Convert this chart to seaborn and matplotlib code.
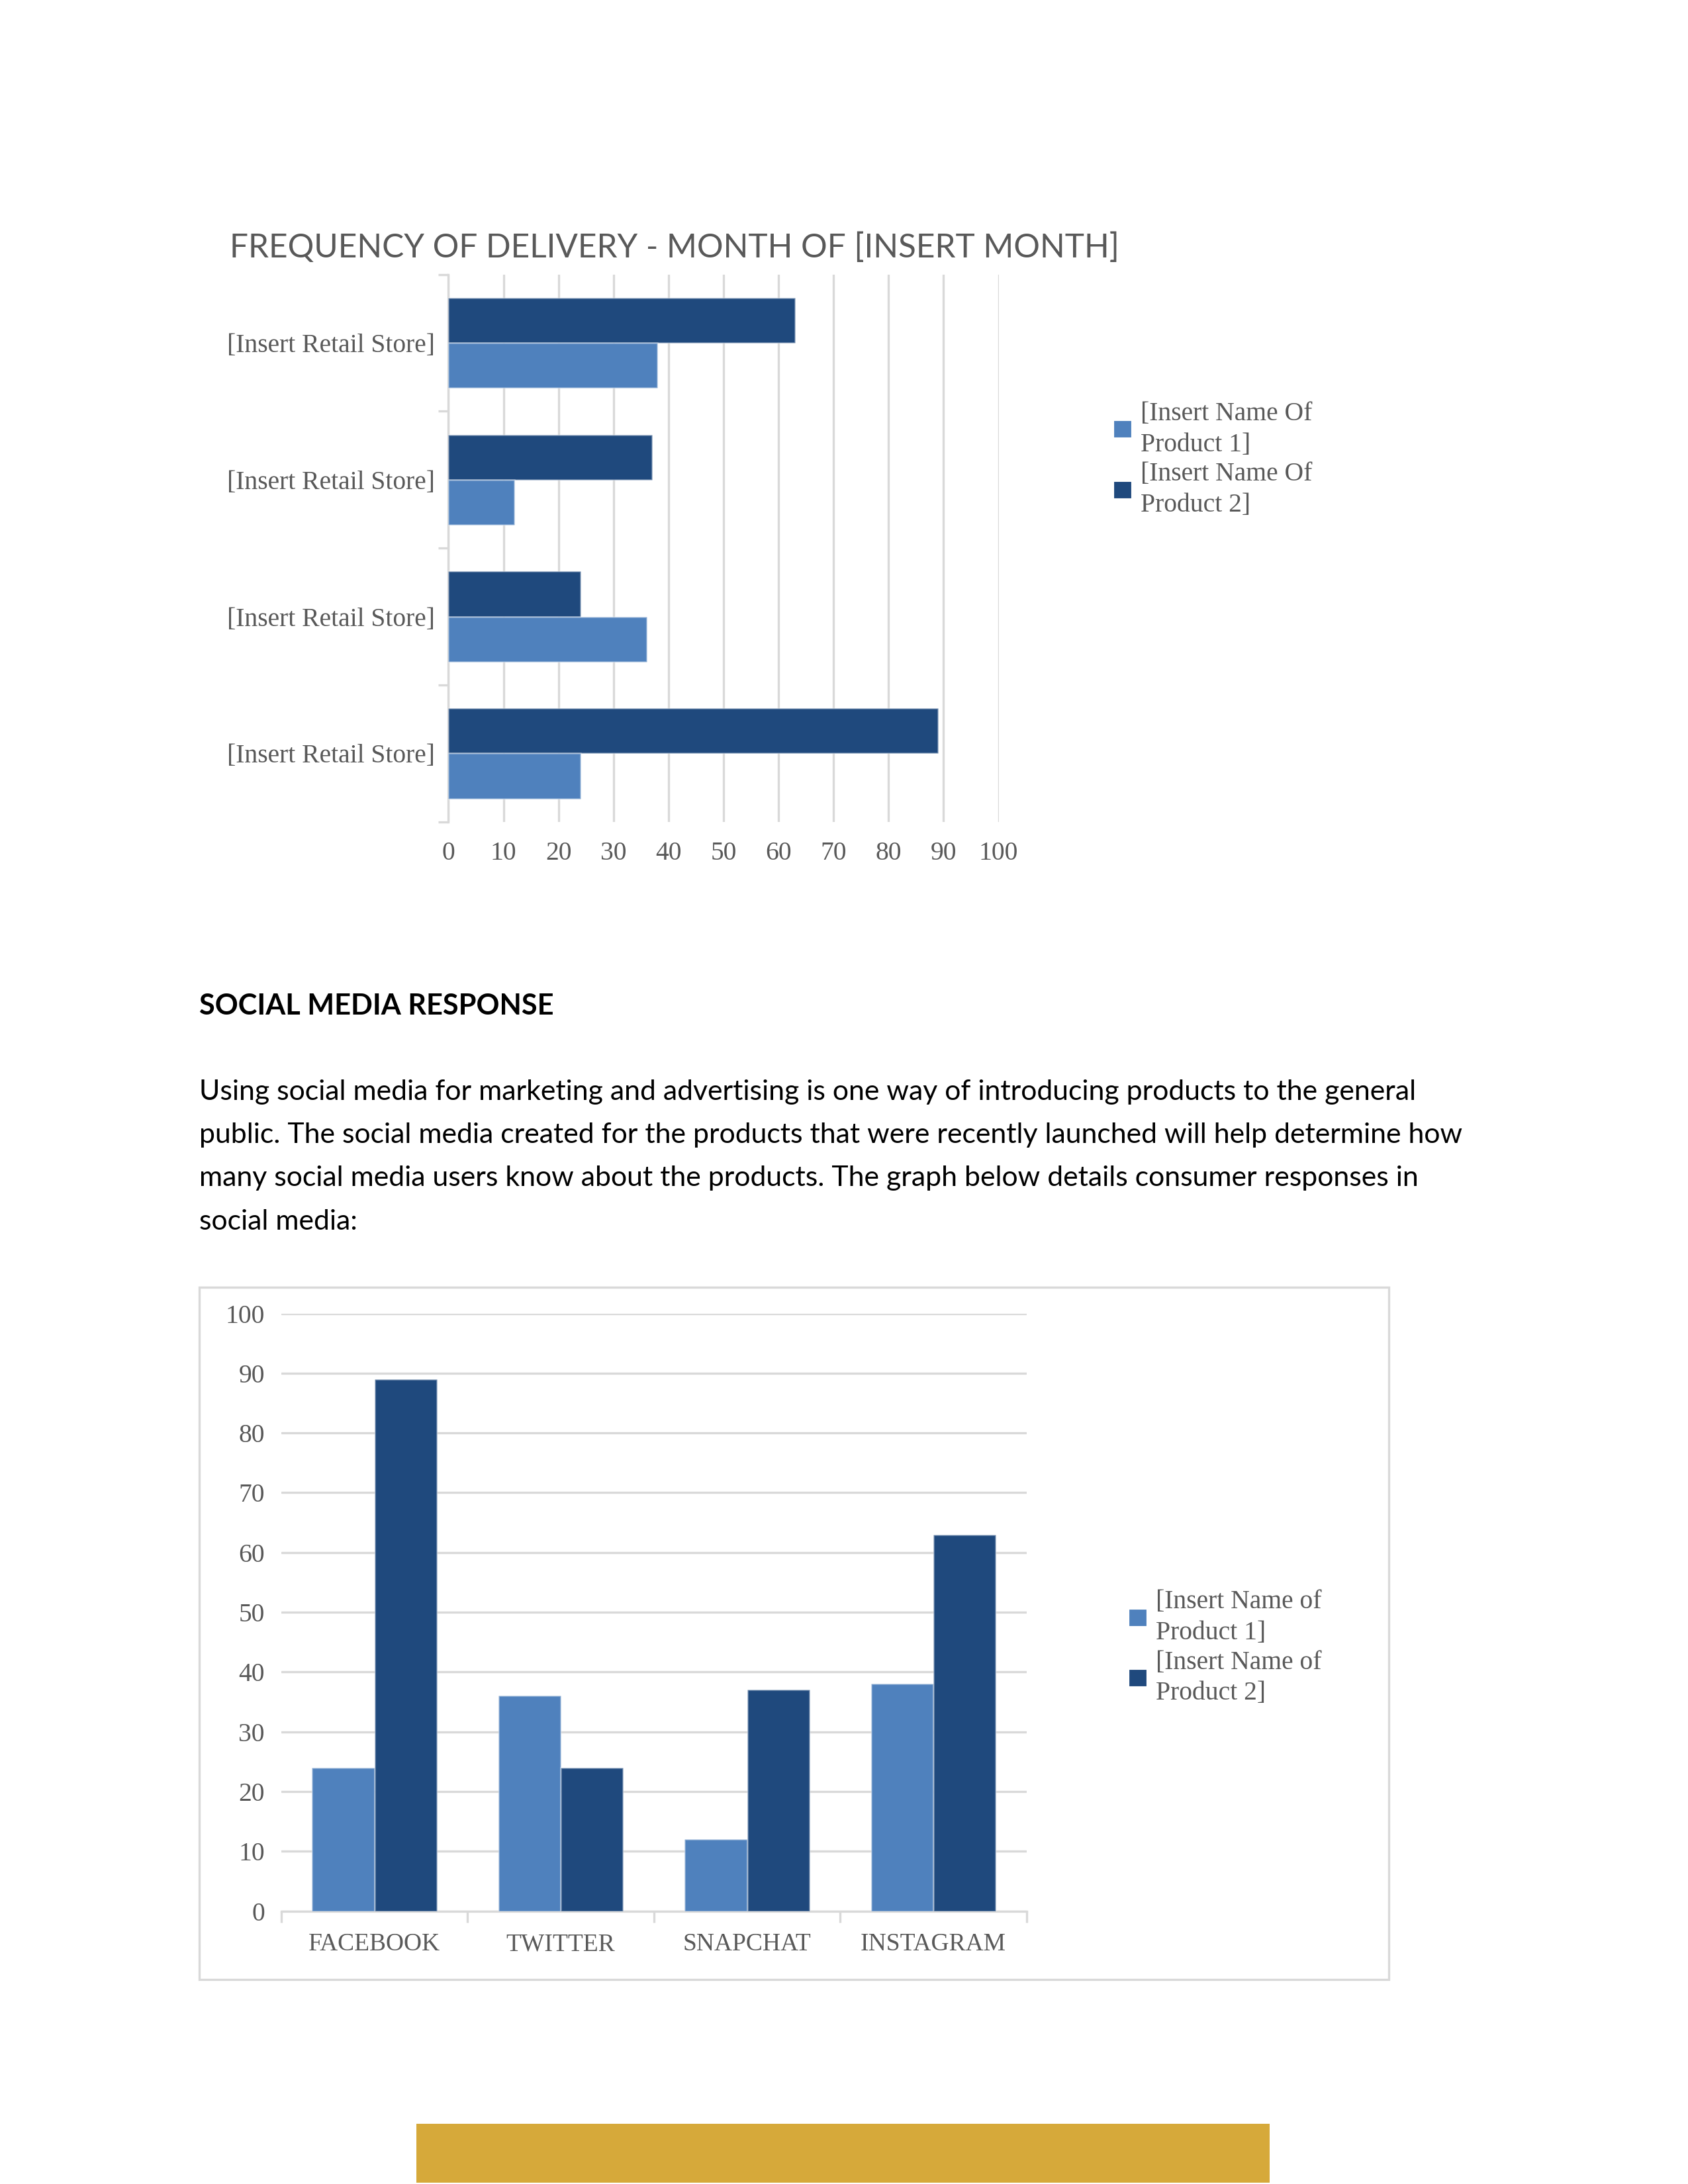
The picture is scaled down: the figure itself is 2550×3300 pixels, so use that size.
import pandas as pd
import numpy as np
import seaborn as sns
import matplotlib.pyplot as plt
from matplotlib.patches import Patch, Rectangle

# chart data
stores = ["store_1", "store_2", "store_3", "store_4"]
store_labels = ["[Insert Retail Store]"] * 4
delivery_p1 = [38, 12, 36, 24]
delivery_p2 = [63, 37, 24, 89]

platforms = ["FACEBOOK", "TWITTER", "SNAPCHAT", "INSTAGRAM"]
social_p1 = [24, 36, 12, 38]
social_p2 = [89, 24, 37, 63]

legend1 = ["[Insert Name Of\nProduct 1]", "[Insert Name Of\nProduct 2]"]
legend2 = ["[Insert Name of\nProduct 1]", "[Insert Name of\nProduct 2]"]

title1 = "FREQUENCY OF DELIVERY - MONTH OF [INSERT MONTH]"
heading = "SOCIAL MEDIA RESPONSE"
para = [
    "Using social media for marketing and advertising is one way of introducing products to the general",
    "public. The social media created for the products that were recently launched will help determine how",
    "many social media users know about the products. The graph below details consumer responses in",
    "social media:",
]

light = "#4F81BD"
dark = "#1F497D"
grid = "#D9D9D9"
gray = "#595959"
gold = "#D6A93A"

sns.set_theme(style="white")
plt.rcParams["font.family"] = ["Lato", "DejaVu Sans"]
serif = ["Liberation Serif", "DejaVu Serif"]

W, H = 1212, 1568  # layout measured on the preview grid


def fx(x):
    return x / W


def fy(y):
    return 1 - y / H


fig = plt.figure(figsize=(8.5, 11), dpi=300)
fig.patch.set_facecolor("white")

# ---------------- chart 1: horizontal bars ----------------
df1 = pd.DataFrame({
    "store": stores * 2,
    "value": delivery_p2 + delivery_p1,
    "product": ["P2"] * 4 + ["P1"] * 4,
})
ax1 = fig.add_axes([fx(322), fy(590), fx(717) - fx(322), fy(197) - fy(590)])
sns.barplot(data=df1, y="store", x="value", hue="product", hue_order=["P2", "P1"],
            order=stores, palette={"P1": light, "P2": dark}, orient="h",
            width=0.66, saturation=1, edgecolor=(1, 1, 1, 0.35), linewidth=0.6,
            legend=False, ax=ax1, zorder=3)
ax1.set_xlim(0, 100)
ax1.set_ylim(3.5, -0.5)
ax1.set_xticks(range(0, 101, 10))
ax1.set_yticks(range(4))
ax1.set_yticklabels(store_labels, family=serif, fontsize=9.5, color=gray)
ax1.set_yticks(np.arange(-0.5, 4, 1), minor=True)
ax1.tick_params(axis="y", which="major", length=0, pad=5)
ax1.tick_params(axis="y", which="minor", length=3.5, width=0.8, color=grid, left=True)
ax1.tick_params(axis="x", length=0, pad=7, labelsize=9.5, labelcolor=gray)
for lab in ax1.get_xticklabels():
    lab.set_family(serif)
ax1.set_xlabel("")
ax1.set_ylabel("")
ax1.xaxis.grid(True, color=grid, linewidth=0.8, zorder=0)
ax1.set_axisbelow(True)
for s in ["top", "right", "bottom"]:
    ax1.spines[s].set_visible(False)
ax1.spines["left"].set_color(grid)
ax1.spines["left"].set_linewidth(0.8)

fig.text(fx(165), fy(178), title1, fontsize=11.9, color=gray, va="center", ha="left")

h1 = [Patch(facecolor=light), Patch(facecolor=dark)]
leg1 = fig.legend(h1, legend1, loc="center left", bbox_to_anchor=(fx(799), fy(330)),
                  frameon=False, prop={"family": serif, "size": 9.5}, labelcolor=gray,
                  handlelength=0.75, handleheight=0.75, handletextpad=0.3,
                  labelspacing=0.2, borderaxespad=0, borderpad=0)
for t in leg1.get_texts():
    t.set_linespacing(1.35)

# ---------------- text block ----------------
fig.text(fx(143), fy(722), heading, fontsize=10.4, fontweight="bold", color="black",
         va="center", ha="left")
for i, line in enumerate(para):
    fig.text(fx(143), fy(784 + 31 * i), line, fontsize=10.25, color="black",
             va="center", ha="left")

# ---------------- chart 2: vertical bars ----------------
fig.patches.append(Rectangle((fx(143), fy(1421)), fx(997) - fx(143), fy(924) - fy(1421),
                             transform=fig.transFigure, facecolor="none",
                             edgecolor=grid, linewidth=0.8))

df2 = pd.DataFrame({
    "platform": platforms * 2,
    "value": social_p1 + social_p2,
    "product": ["P1"] * 4 + ["P2"] * 4,
})
ax2 = fig.add_axes([fx(202), fy(1372), fx(737) - fx(202), fy(943) - fy(1372)])
sns.barplot(data=df2, x="platform", y="value", hue="product", hue_order=["P1", "P2"],
            order=platforms, palette={"P1": light, "P2": dark},
            width=0.67, saturation=1, edgecolor=(1, 1, 1, 0.35), linewidth=0.6,
            legend=False, ax=ax2, zorder=3)
ax2.set_ylim(0, 100)
ax2.set_xlim(-0.5, 3.5)
ax2.set_yticks(range(0, 101, 10))
ax2.set_xticks(np.arange(-0.5, 4, 1), minor=True)
ax2.tick_params(axis="x", which="major", length=0, pad=8, labelsize=9, labelcolor=gray)
ax2.tick_params(axis="x", which="minor", length=4, width=0.8, color=grid, bottom=True)
ax2.tick_params(axis="y", length=0, pad=6, labelsize=9.5, labelcolor=gray)
for lab in ax2.get_xticklabels() + ax2.get_yticklabels():
    lab.set_family(serif)
ax2.set_xlabel("")
ax2.set_ylabel("")
ax2.yaxis.grid(True, color=grid, linewidth=0.8, zorder=0)
ax2.set_axisbelow(True)
for s in ["top", "right", "left"]:
    ax2.spines[s].set_visible(False)
ax2.spines["bottom"].set_color(grid)
ax2.spines["bottom"].set_linewidth(0.8)

h2 = [Patch(facecolor=light), Patch(facecolor=dark)]
leg2 = fig.legend(h2, legend2, loc="center left", bbox_to_anchor=(fx(810), fy(1183)),
                  frameon=False, prop={"family": serif, "size": 9.5}, labelcolor=gray,
                  handlelength=0.75, handleheight=0.75, handletextpad=0.3,
                  labelspacing=0.2, borderaxespad=0, borderpad=0)
for t in leg2.get_texts():
    t.set_linespacing(1.35)

# gold footer band
fig.patches.append(Rectangle((629 / 2550, 2 / 3300), (1918 - 629) / 2550, 89 / 3300,
                             transform=fig.transFigure, facecolor=gold, edgecolor="none"))

fig.savefig("out.png", dpi=300)
